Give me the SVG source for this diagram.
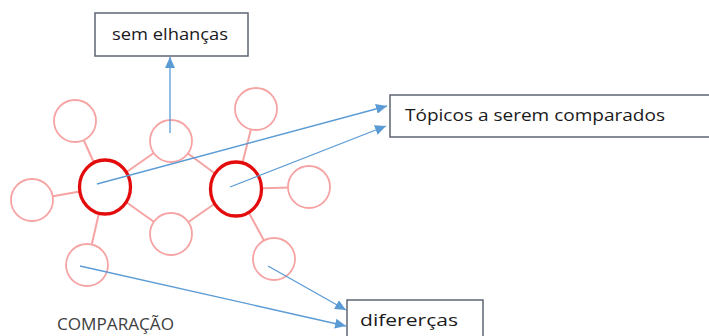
<svg xmlns="http://www.w3.org/2000/svg" width="709" height="336" viewBox="0 0 709 336">
<style>
.bg{fill:#ffffff}
.link{stroke:#f6a3a3;stroke-width:2;fill:none}
.small{fill:#ffffff;stroke:#f6a3a3;stroke-width:1.8}
.big{fill:#ffffff;stroke:#e30b0b;stroke-width:3.3}
.box{fill:#ffffff;stroke:#5d6673;stroke-width:1.5}
.lbl{font-family:"Open Sans","Liberation Sans",Arial,sans-serif;fill:#1a1a1a}
.arrow{stroke:#5b9bd5;stroke-width:1.3;fill:none;marker-end:url(#ah)}
.title{font-family:"Open Sans","Liberation Sans",Arial,sans-serif;fill:#404040;font-size:16px}
</style>
<defs>
<marker id="ah" markerUnits="userSpaceOnUse" markerWidth="12" markerHeight="10" refX="11" refY="5" orient="auto">
<path d="M0,0 L11,5 L0,10 Z" fill="#5b9bd5"/>
</marker>
</defs>
<rect class="bg" x="0" y="0" width="709" height="336"/>

<g id="links">
<line class="link" x1="105" y1="187" x2="75" y2="121"/>
<line class="link" x1="105" y1="187" x2="32" y2="200"/>
<line class="link" x1="105" y1="187" x2="87" y2="265"/>
<line class="link" x1="105" y1="187" x2="171" y2="141"/>
<line class="link" x1="105" y1="187" x2="171" y2="234"/>
<line class="link" x1="171" y1="141" x2="236" y2="189"/>
<line class="link" x1="171" y1="234" x2="236" y2="189"/>
<line class="link" x1="236" y1="189" x2="256" y2="109"/>
<line class="link" x1="236" y1="189" x2="309" y2="187"/>
<line class="link" x1="236" y1="189" x2="274" y2="259"/>
</g>

<g id="node-c1"><circle class="small" cx="75" cy="121" r="21"/></g>
<g id="node-c2"><circle class="small" cx="32" cy="200" r="21"/></g>
<g id="node-c3"><circle class="small" cx="87" cy="265" r="21"/></g>
<g id="node-c4"><circle class="small" cx="171" cy="141" r="21"/></g>
<g id="node-c5"><circle class="small" cx="171" cy="234" r="21"/></g>
<g id="node-c6"><circle class="small" cx="256" cy="109" r="21"/></g>
<g id="node-c7"><circle class="small" cx="309" cy="187" r="21"/></g>
<g id="node-c8"><circle class="small" cx="274" cy="259" r="21"/></g>
<g id="node-big1"><ellipse class="big" cx="105" cy="187" rx="25.5" ry="27"/></g>
<g id="node-big2"><ellipse class="big" cx="236" cy="189" rx="25.5" ry="27"/></g>

<g id="node-semelhancas">
<rect class="box" x="95" y="13" width="153" height="43"/>
<text class="lbl" x="112" y="40" font-size="16" textLength="116" lengthAdjust="spacingAndGlyphs">sem elhanças</text>
</g>
<g id="node-topicos">
<rect class="box" x="390" y="95" width="330" height="42"/>
<text class="lbl" x="405" y="121" font-size="16" textLength="260" lengthAdjust="spacingAndGlyphs">Tópicos a serem comparados</text>
</g>
<g id="node-diferencas">
<rect class="box" x="347" y="300" width="136" height="50"/>
<text class="lbl" x="360" y="326" font-size="17" textLength="98" lengthAdjust="spacingAndGlyphs">difererças</text>
</g>

<g id="connectors">
<line class="arrow" x1="170" y1="133" x2="170" y2="57"/>
<line class="arrow" x1="97" y1="184" x2="387" y2="106"/>
<line class="arrow" x1="230" y1="187" x2="386" y2="126"/>
<line class="arrow" x1="80" y1="266" x2="346" y2="326"/>
<line class="arrow" x1="268" y1="266" x2="346" y2="310"/>
</g>

<text class="title" x="57" y="330" textLength="117" lengthAdjust="spacingAndGlyphs">COMPARAÇÃO</text>
</svg>
